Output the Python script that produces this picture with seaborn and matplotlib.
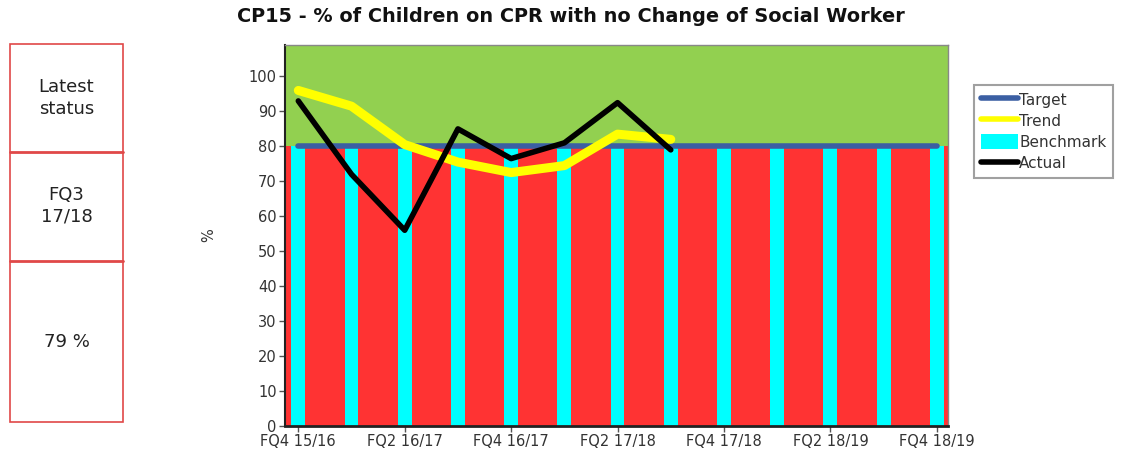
import matplotlib
matplotlib.use("Agg")
import matplotlib.pyplot as plt
import seaborn as sns
import numpy as np
import pandas as pd
from matplotlib.patches import Rectangle, Patch
from matplotlib.lines import Line2D

quarters = ["FQ4 15/16", "FQ1 16/17", "FQ2 16/17", "FQ3 16/17", "FQ4 16/17",
            "FQ1 17/18", "FQ2 17/18", "FQ3 17/18", "FQ4 17/18", "FQ1 18/19",
            "FQ2 18/19", "FQ3 18/19", "FQ4 18/19"]
benchmark = [80] * 13
target = [80] * 13
actual = [93, 72, 56, 85, 76.5, 81, 92.5, 79, None, None, None, None, None]
trend = [96, 91.5, 80.5, 75.5, 72.5, 74.5, 83.5, 82, None, None, None, None, None]
status_period = "FQ3\n17/18"
status_value = "79 %"

title = "CP15 - % of Children on CPR with no Change of Social Worker"

df = pd.DataFrame({
    "quarter": quarters,
    "pos": np.arange(len(quarters)),
    "benchmark": benchmark,
    "target": target,
    "actual": pd.array(actual, dtype="float"),
    "trend": pd.array(trend, dtype="float"),
})

sns.set_style("white")
plt.rcParams['font.family'] = ['DejaVu Sans']

fig = plt.figure(figsize=(11.25, 4.55), dpi=100)
ax = fig.add_axes([285/1125, 1 - 426/455, (948-285)/1125, (426-45)/455])

ymax = 109
n = len(quarters)
# background bands
ax.axhspan(0, 80, color="#ff3333", zorder=0, lw=0)
ax.axhspan(80, ymax, color="#92d050", zorder=0, lw=0)

sns.barplot(data=df, x="pos", y="benchmark", color="#00ffff", width=0.26,
            saturation=1, ax=ax, zorder=2, native_scale=True,
            edgecolor="none", linewidth=0)
sns.lineplot(data=df, x="pos", y="target", color="#3b5fa3", linewidth=4,
             ax=ax, zorder=3)
sns.lineplot(data=df, x="pos", y="trend", color="#ffff00", linewidth=6.5,
             ax=ax, zorder=4)
sns.lineplot(data=df, x="pos", y="actual", color="black", linewidth=4,
             ax=ax, zorder=5)

ax.set_xlim(-0.25, n - 1 + 0.21)
ax.set_ylim(0, ymax)
ax.set_yticks(range(0, 101, 10))
ax.set_xticks(df["pos"][::2])
ax.set_xticklabels(df["quarter"][::2])
ax.tick_params(axis="both", which="both", length=4, width=1, color="#555555",
               labelsize=10.5, labelcolor="#333333", direction="out",
               bottom=True, left=True, pad=2)
ax.set_xlabel("")
ax.set_ylabel("%", fontsize=10.5, color="#333333", labelpad=23)
for side in ["top", "right"]:
    ax.spines[side].set_visible(True)
    ax.spines[side].set_color("#888888")
    ax.spines[side].set_linewidth(1)
ax.spines["left"].set_color("#222222")
ax.spines["left"].set_linewidth(1.5)
ax.spines["bottom"].set_color("#222222")
ax.spines["bottom"].set_linewidth(2)

fig.text(571/1125, 1 - 17/455, title, ha="center", va="center",
         fontsize=13.9, fontweight="bold", color="#111111")

handles = [Line2D([0], [0], color="#3b5fa3", lw=4),
           Line2D([0], [0], color="#ffff00", lw=4),
           Patch(facecolor="#00ffff", edgecolor="none"),
           Line2D([0], [0], color="black", lw=4)]
leg = fig.legend(handles, ["Target", "Trend", "Benchmark", "Actual"],
                 loc="upper left", bbox_to_anchor=(974/1125, 1 - 85/455),
                 fontsize=11, frameon=True, fancybox=False,
                 handlelength=2.4, handleheight=1.15, handletextpad=0.1,
                 labelspacing=0.35, borderpad=0.45, borderaxespad=0)
leg.get_frame().set_edgecolor("#888888")
leg.get_frame().set_linewidth(1.5)
for t in leg.get_texts():
    t.set_color("#333333")

# left status panel
pax = fig.add_axes([10/1125, 1 - 422/455, (123-10)/1125, (422-44)/455])
pax.set_xlim(0, 1)
pax.set_ylim(422, 44)
pax.axis("off")
red = "#e04848"
pax.add_patch(Rectangle((0, 44), 1, 422-44, fill=False, edgecolor=red, lw=1.2,
                        clip_on=False))
pax.plot([0, 1], [152, 152], color=red, lw=2, clip_on=False)
pax.plot([0, 1], [261, 261], color=red, lw=2, clip_on=False)
pax.text(0.5, 98, "Latest\nstatus", ha="center", va="center", fontsize=13,
         color="#222222", linespacing=1.25)
pax.text(0.5, 206, status_period, ha="center", va="center", fontsize=13,
         color="#222222", linespacing=1.25)
pax.text(0.5, 342, status_value, ha="center", va="center", fontsize=13,
         color="#222222")

fig.savefig("out.png", dpi=100)
